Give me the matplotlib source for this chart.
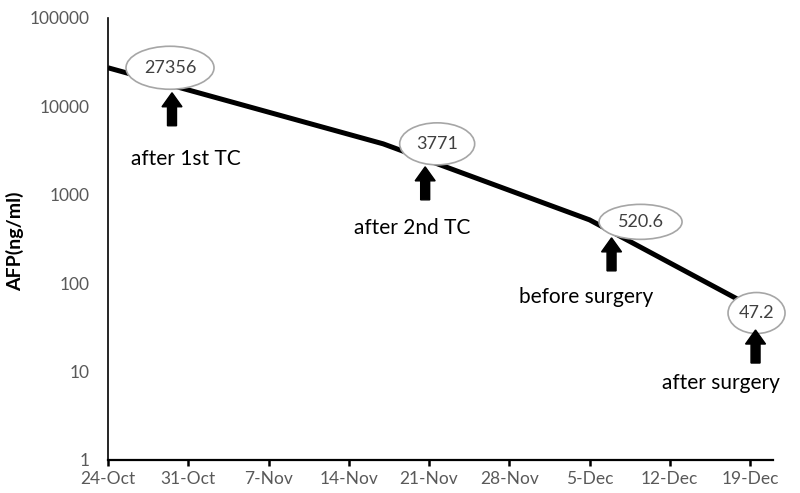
import datetime as dt
import matplotlib
matplotlib.use("Agg")
import matplotlib.pyplot as plt
import matplotlib.dates as mdates
from matplotlib.patches import Ellipse, FancyArrow
from matplotlib.transforms import IdentityTransform
from matplotlib.ticker import FixedLocator, FuncFormatter, NullLocator

# ---------------- data ----------------
dates = ["2016-10-24", "2016-11-17", "2016-12-05", "2016-12-20"]
afp = [27356, 3771, 520.6, 47.2]
afp_text = ["27356", "3771", "520.6", "47.2"]
events = ["after 1st TC", "after 2nd TC", "before surgery", "after surgery"]
x_ticks = ["2016-10-24", "2016-10-31", "2016-11-07", "2016-11-14", "2016-11-21",
           "2016-11-28", "2016-12-05", "2016-12-12", "2016-12-19"]
y_ticks = [1, 10, 100, 1000, 10000, 100000]

to_d = lambda s: dt.datetime.strptime(s, "%Y-%m-%d")
xd = [to_d(s) for s in dates]
xt = [to_d(s) for s in x_ticks]

plt.rcParams["font.family"] = ["Lato", "DejaVu Sans"]

W, H = 800, 493
fig = plt.figure(figsize=(W / 100, H / 100), dpi=100)
ax = fig.add_axes([108 / W, 1 - 460 / H, (773 - 108) / W, (460 - 18) / H])

ax.plot(xd, afp, color="black", lw=3.6, solid_capstyle="butt", zorder=2)

ax.set_yscale("log")
ax.set_ylim(1, 100000)
ax.set_xlim(xt[0], xt[-1] + dt.timedelta(days=2))

ax.yaxis.set_major_locator(FixedLocator(y_ticks))
ax.yaxis.set_minor_locator(NullLocator())
ax.yaxis.set_major_formatter(FuncFormatter(lambda v, p: f"{int(round(v))}"))
ax.xaxis.set_major_locator(FixedLocator(mdates.date2num(xt)))
ax.xaxis.set_major_formatter(FuncFormatter(
    lambda v, p: f"{mdates.num2date(v).day}-{mdates.num2date(v).strftime('%b')}"))

ax.tick_params(axis="y", length=0, pad=13, labelsize=12.5, labelcolor="#595959")
ax.tick_params(axis="x", length=4, width=1.8, pad=4, labelsize=12.5,
               labelcolor="#595959", direction="out")

for s in ["top", "right"]:
    ax.spines[s].set_visible(False)
ax.spines["left"].set_linewidth(1.2)
ax.spines["bottom"].set_linewidth(1.6)

ax.set_ylabel("AFP(ng/ml)", fontsize=14, fontweight="bold", color="black")
ax.yaxis.set_label_coords(-0.126, 0.495)

# ---------------- callouts (pixel layout) ----------------
ell_off = [(62, 0), (54, 0), (51, 2), (-5, 1)]
ell_size = [(88, 43), (75, 42), (83, 35), (57, 41)]
arrow_dx = [2, -12, -29, -1]
arrow_tip = [25, 23, 16, 17]
label_off = [(16, 91), (-25, 84), (-54, 75), (-36, 70)]

for i in range(len(afp)):
    px, py = ax.transData.transform((mdates.date2num(xd[i]), afp[i]))
    cx, cy = px + ell_off[i][0], py - ell_off[i][1]
    e = Ellipse((cx, cy), ell_size[i][0], ell_size[i][1], transform=IdentityTransform(),
                facecolor="white", edgecolor="#a6a6a6", lw=1.2, zorder=3)
    fig.add_artist(e)
    fig.text(cx, cy, afp_text[i], transform=IdentityTransform(), ha="center", va="center",
             fontsize=13, color="#404040", zorder=4)
    ax_x = cx + arrow_dx[i]
    tip = cy - arrow_tip[i]
    arr = FancyArrow(ax_x, tip - 33, 0, 33, width=9, head_width=20, head_length=14,
                     length_includes_head=True, color="black",
                     transform=IdentityTransform(), zorder=4)
    fig.add_artist(arr)
    fig.text(cx + label_off[i][0], cy - label_off[i][1], events[i],
             transform=IdentityTransform(), ha="center", va="center",
             fontsize=15, color="black", zorder=4)

fig.savefig("out.png", dpi=100)
